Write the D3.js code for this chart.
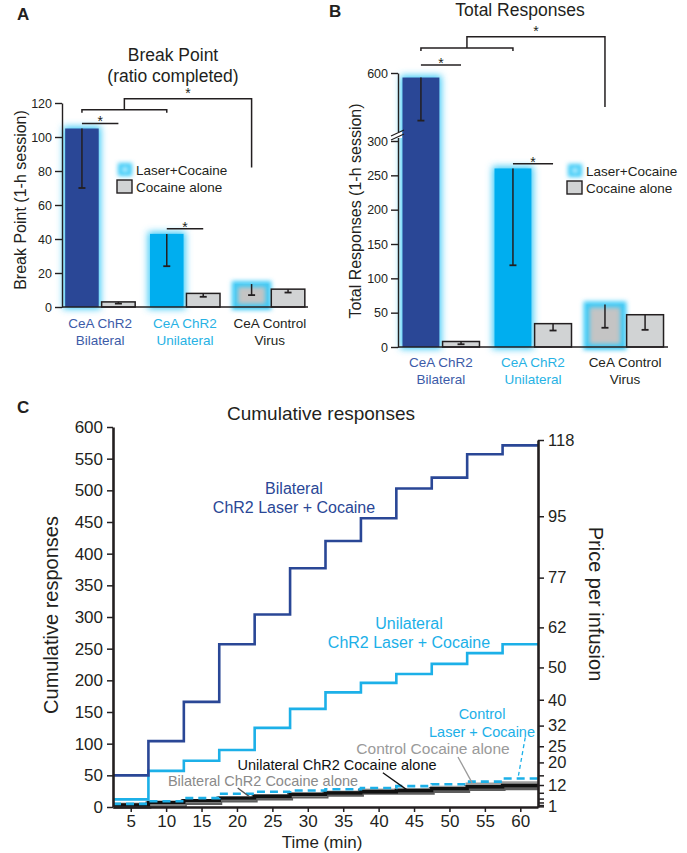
<!DOCTYPE html>
<html>
<head>
<meta charset="utf-8">
<script src="https://cdn.jsdelivr.net/npm/d3@7"></script>
<style>
body { margin: 0; background: #fff; }
svg text { font-family: Arial, "Liberation Sans", Helvetica, sans-serif; fill: #231f20; }
</style>
</head>
<body>
<script>
// ---- data ----
var groups = ["Bilateral", "Unilateral", "Control"];
var groupLine1 = ["CeA ChR2", "CeA ChR2", "CeA Control"];
var groupLine2 = ["Bilateral", "Unilateral", "Virus"];

// A: break point
var bpLaser = [105, 43, 13.5];
var bpLaserErr = [70, 24, 7];
var bpCocaine = [3, 8, 10.5];
var bpCocaineErr = [2, 6, 8.5];
var bpTicks = [0, 20, 40, 60, 80, 100, 120];

// B: total responses
var trLaser = [580, 260, 62];
var trLaserErr = [390, 119, 28];
var trCocaine = [8, 34, 47];
var trCocaineErr = [4, 24, 25];
var trTicks = [0, 50, 100, 150, 200, 250, 300, 600];

// C: cumulative responses per 5-min bin
var minutes = [5, 10, 15, 20, 25, 30, 35, 40, 45, 50, 55, 60];
var bilLaser = [50, 104, 166, 257, 304, 377, 420, 456, 503, 520, 557, 571];
var uniLaser = [12, 57, 73, 90, 125, 155, 181, 196, 210, 226, 243, 257];
var ctlLaser = [5, 9, 14, 21, 24, 26, 28, 30, 33, 36, 40, 45];
var bilCocaine = [2, 4, 8, 12, 15, 18, 21, 24, 24, 27, 30, 31];
var uniCocaine = [3, 7, 10, 14, 17, 20, 22, 24, 26, 29, 32, 34];
var ctlCocaine = [1, 5, 9, 13, 17, 19, 22, 25, 27, 31, 36, 38];
var respTicks = [0, 50, 100, 150, 200, 250, 300, 350, 400, 450, 500, 550, 600];
var pricePer = [1, 2, 4, 6, 9, 12, 15, 20, 25, 32, 40, 50, 62, 77, 95, 118];
var priceCum = [1, 3, 7, 13, 22, 34, 49, 69, 94, 126, 166, 216, 278, 355, 450, 568];
var priceShown = [1, 12, 20, 25, 32, 40, 50, 62, 77, 95, 118];

var darkBlue = "#2a4796", lightBlue = "#1cb0e8", glowBlue = "#3ccaf7";
var catColors = ["#3c5ba8", "#27b2e4", "#231f20"];

var svg = d3.select("body").append("svg")
  .attr("width", 687).attr("height", 853);

var defs = svg.append("defs");
defs.append("filter").attr("id", "glow").attr("x", "-60%").attr("y", "-60%")
  .attr("width", "220%").attr("height", "220%")
  .append("feGaussianBlur").attr("stdDeviation", 3.5);
defs.append("filter").attr("id", "glowSmall").attr("x", "-60%").attr("y", "-60%")
  .attr("width", "220%").attr("height", "220%")
  .append("feGaussianBlur").attr("stdDeviation", 2.2);

// panel letters
svg.append("text").attr("x", 17).attr("y", 20).style("font-size", "17px").style("font-weight", "bold").text("A");
svg.append("text").attr("x", 329).attr("y", 17).style("font-size", "17px").style("font-weight", "bold").text("B");
svg.append("text").attr("x", 17).attr("y", 413).style("font-size", "17px").style("font-weight", "bold").text("C");

function barPanel(cfg) {
  var g = svg.append("g");
  var y = cfg.y;
  var x0 = d3.scalePoint().domain(groups).range(cfg.xRange).padding(cfg.pad);
  var x1 = d3.scaleBand().domain(["laser", "cocaine"]).range([-cfg.half, cfg.half]).paddingInner(0.08);
  var w = x1.bandwidth();
  var base = y(0);
  var laserFill = [darkBlue, "#00aeef", "#c4c4c4"];

  groups.forEach(function(name, i) {
    var lx = x0(name) + x1("laser");
    var ly = y(cfg.laser[i]);
    if (i < 2) {
      g.append("rect").attr("x", lx - 2).attr("y", ly - 2).attr("width", w + 4).attr("height", base - ly + 4)
        .attr("fill", glowBlue).attr("filter", "url(#glow)");
      g.append("rect").attr("x", lx).attr("y", ly).attr("width", w).attr("height", base - ly)
        .attr("fill", laserFill[i]);
    } else {
      g.append("rect").attr("x", lx).attr("y", ly).attr("width", w).attr("height", base - ly)
        .attr("fill", laserFill[i]);
      g.append("rect").attr("x", lx).attr("y", ly).attr("width", w).attr("height", base - ly)
        .attr("fill", "none").attr("stroke", glowBlue).attr("stroke-width", 6).attr("filter", "url(#glowSmall)");
    }
    var cx = x0(name) + x1("cocaine");
    var cy = y(cfg.cocaine[i]);
    g.append("rect").attr("x", cx).attr("y", cy).attr("width", w).attr("height", base - cy)
      .attr("fill", "#d1d3d4").attr("stroke", "#231f20").attr("stroke-width", 1.5);

    // error bars (lower half)
    [[lx, cfg.laser[i], cfg.laserErr[i]], [cx, cfg.cocaine[i], cfg.cocaineErr[i]]].forEach(function(e) {
      var mx = e[0] + w / 2;
      g.append("line").attr("x1", mx).attr("x2", mx).attr("y1", y(e[1])).attr("y2", y(e[2]))
        .attr("stroke", "#231f20").attr("stroke-width", 1.5);
      g.append("line").attr("x1", mx - 3.5).attr("x2", mx + 3.5).attr("y1", y(e[2])).attr("y2", y(e[2]))
        .attr("stroke", "#231f20").attr("stroke-width", 1.8);
    });
  });

  // axes
  var yAxis = d3.axisLeft(y).tickValues(cfg.ticks).tickSize(7).tickSizeOuter(0).tickPadding(3);
  var ya = g.append("g").attr("transform", "translate(" + cfg.xRange[0] + ",0)").call(yAxis);
  ya.selectAll("text").style("font-size", "12.5px").attr("fill", "#231f20");
  ya.selectAll("line, path").attr("stroke", "#231f20").attr("stroke-width", 1.4);
  g.append("line").attr("x1", cfg.xRange[0]).attr("x2", cfg.xRange[1]).attr("y1", base).attr("y2", base)
    .attr("stroke", "#231f20").attr("stroke-width", 1.6);

  // category labels
  groups.forEach(function(name, i) {
    var t = g.append("text").attr("x", x0(name)).attr("text-anchor", "middle")
      .style("font-size", "13.5px").style("fill", catColors[i]);
    t.append("tspan").attr("x", x0(name)).attr("y", cfg.labelY).text(groupLine1[i]);
    t.append("tspan").attr("x", x0(name)).attr("y", cfg.labelY + 16.5).text(groupLine2[i]);
  });

  // significance marks
  function mid(name, k) { return x0(name) + x1(k) + w / 2; }
  function star(xp, yp) {
    g.append("text").attr("x", xp).attr("y", yp).attr("text-anchor", "middle")
      .style("font-size", "14px").text("*");
  }
  var s = cfg.sig;
  var ln = function(pts) {
    g.append("path").attr("d", d3.line()(pts)).attr("fill", "none")
      .attr("stroke", "#231f20").attr("stroke-width", 1.5);
  };
  ln([[mid("Bilateral", "laser"), y(s.pair1)], [mid("Bilateral", "cocaine"), y(s.pair1)]]);
  star((mid("Bilateral", "laser") + mid("Bilateral", "cocaine")) / 2, y(s.pair1) + 3);
  ln([[mid("Unilateral", "laser"), y(s.pair2)], [mid("Unilateral", "cocaine"), y(s.pair2)]]);
  star((mid("Unilateral", "laser") + mid("Unilateral", "cocaine")) / 2, y(s.pair2) + 3);
  var bl = mid("Bilateral", "laser"), ul = mid("Unilateral", "laser"), cl = mid("Control", "laser");
  ln([[bl, y(s.brLow) + 3], [bl, y(s.brLow)], [ul, y(s.brLow)], [ul, y(s.brLow) + 3]]);
  var bm = (bl + ul) / 2;
  ln([[bm, y(s.brLow)], [bm, y(s.brTop)], [cl, y(s.brTop)], [cl, y(s.brEnd)]]);
  star((bm + cl) / 2, y(s.brTop) - 1);

  // legend
  var lg = g.append("g").attr("transform", "translate(" + cfg.legend[0] + "," + cfg.legend[1] + ")");
  lg.append("rect").attr("x", 1).attr("y", 0).attr("width", 14).attr("height", 13)
    .attr("fill", glowBlue).attr("filter", "url(#glowSmall)");
  lg.append("rect").attr("x", 5).attr("y", 4).attr("width", 6).attr("height", 5)
    .attr("fill", "#bff0ff").attr("filter", "url(#glowSmall)");
  lg.append("text").attr("x", 19).attr("y", 12).style("font-size", "13.5px").text("Laser+Cocaine");
  lg.append("rect").attr("x", 0).attr("y", 17).attr("width", 15).attr("height", 13)
    .attr("fill", "#d1d3d4").attr("stroke", "#231f20").attr("stroke-width", 1.4);
  lg.append("text").attr("x", 19).attr("y", 29).style("font-size", "13.5px").text("Cocaine alone");

  // titles
  var tt = g.append("text").attr("text-anchor", "middle").style("font-size", "17.5px");
  cfg.title.forEach(function(line, k) {
    tt.append("tspan").attr("x", cfg.titleX).attr("y", cfg.titleY + k * 21).text(line);
  });
  g.append("text").attr("transform", "translate(" + cfg.yLabel[0] + "," + cfg.yLabel[1] + ") rotate(-90)")
    .attr("text-anchor", "middle").attr("dy", "0.35em").style("font-size", "16px").text(cfg.yTitle);
  return g;
}

// Panel A
barPanel({
  y: d3.scaleLinear().domain([0, 120]).range([307, 103]),
  xRange: [62, 308], pad: 0.45, half: 35,
  laser: bpLaser, laserErr: bpLaserErr, cocaine: bpCocaine, cocaineErr: bpCocaineErr,
  ticks: bpTicks, labelY: 328,
  sig: { pair1: 108, pair2: 46, brLow: 116, brTop: 122.5, brEnd: 82 },
  legend: [117, 163],
  title: ["Break Point", "(ratio completed)"], titleX: 173, titleY: 61,
  yLabel: [20, 200], yTitle: "Break Point (1-h session)"
});

// Panel B (broken axis)
var yB = d3.scaleLinear().domain([0, 300, 600]).range([347, 141, 73]);
barPanel({
  y: yB,
  xRange: [398, 668], pad: 0.467, half: 38.5,
  laser: trLaser, laserErr: trLaserErr, cocaine: trCocaine, cocaineErr: trCocaineErr,
  ticks: trTicks, labelY: 367,
  sig: { pair1: 635, pair2: 267, brLow: 710, brTop: 760, brEnd: 450 },
  legend: [567, 164],
  title: ["Total Responses"], titleX: 520, titleY: 16,
  yLabel: [355, 211], yTitle: "Total Responses (1-h session)"
});
// axis break mark
svg.append("rect").attr("x", 394).attr("y", 132).attr("width", 8).attr("height", 6).attr("fill", "#fff");
[0, 4].forEach(function(o) {
  svg.append("line").attr("x1", 391).attr("y1", 136 + o).attr("x2", 404).attr("y2", 130 + o)
    .attr("stroke", "#231f20").attr("stroke-width", 1.3);
});

// Panel C
var gC = svg.append("g");
var x = d3.scaleLinear().domain([2.5, 62.5]).range([113, 538]);
var y = d3.scaleLinear().domain([0, 600]).range([807, 427]);
var yR = d3.scaleLinear().domain([0, 568]).range([807, 440]);
var half = (minutes[1] - minutes[0]) / 2;

function stepPts(vals) {
  var pts = [];
  minutes.forEach(function(m, i) {
    pts.push([m - half, vals[i]]);
    pts.push([m + half, vals[i]]);
  });
  return pts;
}
var line = d3.line().x(function(d) { return x(d[0]); }).y(function(d) { return y(d[1]); });

var series = [
  { v: bilCocaine, c: "#5d5d5d", w: 6 },
  { v: ctlCocaine, c: "#9e9e9e", w: 3.2 },
  { v: uniCocaine, c: "#111111", w: 3.4 },
  { v: ctlLaser, c: lightBlue, w: 2.6, dash: "8,5" },
  { v: uniLaser, c: lightBlue, w: 2.6 },
  { v: bilLaser, c: darkBlue, w: 2.6 }
];
series.forEach(function(s) {
  gC.append("path").attr("d", line(stepPts(s.v))).attr("fill", "none")
    .attr("stroke", s.c).attr("stroke-width", s.w)
    .attr("stroke-dasharray", s.dash || null);
});

// axes
var la = gC.append("g").attr("transform", "translate(" + x.range()[0] + ",0)")
  .call(d3.axisLeft(y).tickValues(respTicks).tickSize(6).tickSizeOuter(0).tickPadding(4));
var ba = gC.append("g").attr("transform", "translate(0," + y(0) + ")")
  .call(d3.axisBottom(x).tickValues(minutes).tickSize(5).tickSizeOuter(0).tickPadding(3));
var ra = gC.append("g").attr("transform", "translate(" + x.range()[1] + ",0)")
  .call(d3.axisRight(yR).tickValues(priceCum).tickSize(6).tickSizeOuter(0).tickPadding(4)
    .tickFormat(function(d, i) { return priceShown.indexOf(pricePer[i]) >= 0 ? pricePer[i] : ""; }));
[la, ba, ra].forEach(function(a) {
  a.selectAll("text").style("font-size", "17px").attr("fill", "#231f20");
  a.selectAll("line").attr("stroke", "#231f20").attr("stroke-width", 1.5);
  a.select(".domain").attr("stroke", "#231f20").attr("stroke-width", 2.6);
});
ra.selectAll("text").style("font-size", "16.5px");

gC.append("text").attr("x", 321).attr("y", 420).attr("text-anchor", "middle")
  .style("font-size", "19px").text("Cumulative responses");
gC.append("text").attr("x", 322).attr("y", 848).attr("text-anchor", "middle")
  .style("font-size", "17px").text("Time (min)");
gC.append("text").attr("transform", "translate(51,615) rotate(-90)").attr("text-anchor", "middle")
  .attr("dy", "0.35em").style("font-size", "20px").text("Cumulative responses");
gC.append("text").attr("transform", "translate(596,604) rotate(90)").attr("text-anchor", "middle")
  .attr("dy", "0.35em").style("font-size", "20px").text("Price per infusion");

// series labels
function lab(lines, cx, by, size, color) {
  var t = gC.append("text").attr("text-anchor", "middle").style("font-size", size).style("fill", color);
  lines.forEach(function(l, k) {
    t.append("tspan").attr("x", cx).attr("y", by + k * 19).text(l);
  });
}
lab(["Bilateral", "ChR2 Laser + Cocaine"], 294, 494, "16px", darkBlue);
lab(["Unilateral", "ChR2 Laser + Cocaine"], 409, 629, "16px", lightBlue);
lab(["Control"], 482, 719, "14.5px", lightBlue);
lab(["Laser + Cocaine"], 482, 737, "14.5px", lightBlue);
lab(["Control Cocaine alone"], 433, 754, "15.5px", "#9a9a9a");
lab(["Unilateral ChR2 Cocaine alone"], 337, 770, "14.5px", "#111");
lab(["Bilateral ChR2 Cocaine alone"], 263, 786, "14.5px", "#8a8a8a");

// leader lines (minutes, responses)
var leaders = [
  { p: [[40.6, 54], [44.0, 27]], c: "#111", dash: null },
  { p: [[51.2, 79], [53.2, 38]], c: "#9a9a9a", dash: null },
  { p: [[20.1, 30], [21.8, 16]], c: "#555", dash: null },
  { p: [[60.7, 110], [59.7, 47]], c: lightBlue, dash: "4,3" }
];
leaders.forEach(function(l) {
  gC.append("path").attr("d", line(l.p)).attr("stroke", l.c).attr("stroke-width", 1.3)
    .attr("fill", "none").attr("stroke-dasharray", l.dash);
});
</script>
</body>
</html>
